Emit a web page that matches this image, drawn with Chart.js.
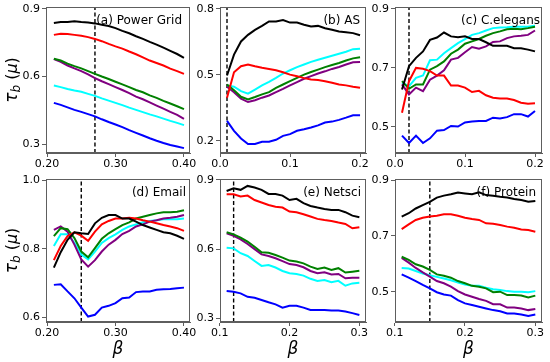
<!DOCTYPE html>
<html>
<head>
<meta charset="utf-8">
<script src="https://cdn.jsdelivr.net/npm/chart.js@4.4.1/dist/chart.umd.min.js"></script>
<style>
  html, body { margin: 0; padding: 0; background: #fff; }
  #wrap { position: relative; width: 550px; height: 362px; overflow: hidden; }
  canvas { position: absolute; }
</style>
</head>
<body>
<div id="wrap"></div>
<script>
// beta values on the x axis
const betaHigh = [0.21, 0.22, 0.23, 0.24, 0.25, 0.26, 0.27, 0.28, 0.29, 0.30, 0.31, 0.32, 0.33, 0.34, 0.35, 0.36, 0.37, 0.38, 0.39, 0.40];
const betaLow = [0.01, 0.02, 0.03, 0.04, 0.05, 0.06, 0.07, 0.08, 0.09, 0.10, 0.11, 0.12, 0.13, 0.14, 0.15, 0.16, 0.17, 0.18, 0.19, 0.20];
const betaMid = [0.11, 0.12, 0.13, 0.14, 0.15, 0.16, 0.17, 0.18, 0.19, 0.20, 0.21, 0.22, 0.23, 0.24, 0.25, 0.26, 0.27, 0.28, 0.29, 0.30];

// (a) Power Grid
const pgBlack = [0.838, 0.842, 0.842, 0.845, 0.842, 0.84, 0.836, 0.83, 0.824, 0.815, 0.803, 0.792, 0.779, 0.767, 0.754, 0.742, 0.728, 0.714, 0.7, 0.683];
const pgRed = [0.785, 0.79, 0.789, 0.785, 0.781, 0.775, 0.767, 0.757, 0.745, 0.734, 0.724, 0.711, 0.699, 0.685, 0.671, 0.66, 0.649, 0.635, 0.624, 0.612];
const pgGreen = [0.679, 0.671, 0.657, 0.646, 0.636, 0.624, 0.612, 0.6, 0.589, 0.577, 0.565, 0.553, 0.54, 0.53, 0.516, 0.505, 0.492, 0.48, 0.468, 0.455];
const pgPurple = [0.678, 0.665, 0.649, 0.636, 0.624, 0.61, 0.593, 0.579, 0.566, 0.553, 0.54, 0.526, 0.511, 0.499, 0.485, 0.471, 0.457, 0.443, 0.43, 0.412];
const pgCyan = [0.56, 0.553, 0.545, 0.538, 0.532, 0.523, 0.514, 0.503, 0.493, 0.483, 0.473, 0.462, 0.452, 0.442, 0.432, 0.423, 0.413, 0.403, 0.394, 0.384];
const pgBlue = [0.483, 0.474, 0.463, 0.452, 0.443, 0.433, 0.423, 0.41, 0.398, 0.387, 0.375, 0.362, 0.35, 0.338, 0.326, 0.315, 0.305, 0.296, 0.289, 0.282];

// (b) AS
const asBlack = [0.497, 0.592, 0.652, 0.682, 0.705, 0.723, 0.743, 0.743, 0.75, 0.738, 0.738, 0.728, 0.72, 0.723, 0.712, 0.705, 0.697, 0.694, 0.69, 0.68];
const asRed = [0.396, 0.512, 0.539, 0.547, 0.539, 0.532, 0.527, 0.521, 0.512, 0.501, 0.494, 0.485, 0.479, 0.476, 0.471, 0.464, 0.456, 0.452, 0.446, 0.441];
const asGreen = [0.456, 0.43, 0.4, 0.388, 0.399, 0.411, 0.421, 0.441, 0.456, 0.471, 0.486, 0.501, 0.513, 0.524, 0.535, 0.545, 0.554, 0.565, 0.575, 0.58];
const asPurple = [0.446, 0.421, 0.391, 0.376, 0.384, 0.396, 0.406, 0.421, 0.436, 0.452, 0.467, 0.482, 0.494, 0.506, 0.516, 0.527, 0.536, 0.547, 0.557, 0.559];
const asCyan = [0.452, 0.446, 0.426, 0.414, 0.433, 0.452, 0.468, 0.486, 0.506, 0.521, 0.535, 0.547, 0.559, 0.569, 0.578, 0.587, 0.596, 0.605, 0.617, 0.619];
const asBlue = [0.29, 0.245, 0.21, 0.185, 0.185, 0.195, 0.195, 0.204, 0.222, 0.23, 0.245, 0.252, 0.26, 0.27, 0.283, 0.287, 0.295, 0.305, 0.316, 0.316];

// (c) C.elegans
const ceBlack = [0.627, 0.706, 0.734, 0.756, 0.795, 0.803, 0.82, 0.807, 0.804, 0.807, 0.798, 0.798, 0.787, 0.775, 0.775, 0.775, 0.767, 0.767, 0.762, 0.756];
const ceRed = [0.548, 0.655, 0.7, 0.697, 0.689, 0.674, 0.674, 0.64, 0.64, 0.633, 0.618, 0.622, 0.607, 0.599, 0.596, 0.596, 0.591, 0.582, 0.578, 0.58];
const ceGreen = [0.655, 0.629, 0.644, 0.644, 0.694, 0.706, 0.722, 0.748, 0.762, 0.782, 0.79, 0.798, 0.809, 0.818, 0.824, 0.831, 0.833, 0.831, 0.835, 0.84];
const cePurple = [0.644, 0.61, 0.633, 0.621, 0.66, 0.674, 0.692, 0.728, 0.734, 0.753, 0.771, 0.765, 0.773, 0.788, 0.79, 0.801, 0.807, 0.809, 0.812, 0.827];
const ceCyan = [0.649, 0.638, 0.666, 0.674, 0.726, 0.728, 0.75, 0.767, 0.784, 0.798, 0.812, 0.818, 0.827, 0.835, 0.837, 0.838, 0.84, 0.84, 0.84, 0.843];
const ceBlue = [0.47, 0.445, 0.47, 0.445, 0.461, 0.487, 0.489, 0.503, 0.501, 0.515, 0.518, 0.52, 0.52, 0.531, 0.528, 0.533, 0.543, 0.543, 0.535, 0.554];

// (d) Email
const emBlack = [0.745, 0.79, 0.826, 0.848, 0.845, 0.843, 0.874, 0.89, 0.898, 0.898, 0.888, 0.888, 0.879, 0.869, 0.862, 0.855, 0.848, 0.845, 0.838, 0.829];
const emRed = [0.767, 0.808, 0.837, 0.848, 0.838, 0.823, 0.85, 0.871, 0.881, 0.888, 0.888, 0.89, 0.888, 0.883, 0.879, 0.874, 0.869, 0.865, 0.86, 0.852];
const emGreen = [0.837, 0.86, 0.857, 0.831, 0.792, 0.775, 0.802, 0.829, 0.845, 0.857, 0.869, 0.877, 0.888, 0.893, 0.898, 0.903, 0.906, 0.906, 0.908, 0.912];
const emPurple = [0.855, 0.865, 0.85, 0.812, 0.769, 0.748, 0.767, 0.792, 0.812, 0.826, 0.843, 0.852, 0.865, 0.871, 0.879, 0.883, 0.888, 0.89, 0.893, 0.898];
const emCyan = [0.808, 0.842, 0.842, 0.817, 0.783, 0.769, 0.792, 0.817, 0.831, 0.842, 0.855, 0.865, 0.871, 0.877, 0.881, 0.883, 0.886, 0.886, 0.886, 0.888];
const emBlue = [0.695, 0.697, 0.676, 0.656, 0.629, 0.603, 0.608, 0.629, 0.634, 0.642, 0.656, 0.658, 0.674, 0.676, 0.676, 0.681, 0.682, 0.683, 0.685, 0.687];

// (e) Netsci
const nsBlack = [0.852, 0.864, 0.857, 0.874, 0.867, 0.857, 0.839, 0.839, 0.832, 0.813, 0.818, 0.799, 0.787, 0.78, 0.774, 0.77, 0.77, 0.76, 0.745, 0.738];
const nsRed = [0.838, 0.838, 0.828, 0.832, 0.813, 0.802, 0.791, 0.784, 0.78, 0.763, 0.76, 0.751, 0.741, 0.731, 0.726, 0.722, 0.715, 0.709, 0.69, 0.695];
const nsGreen = [0.673, 0.664, 0.65, 0.632, 0.61, 0.586, 0.584, 0.574, 0.563, 0.55, 0.546, 0.538, 0.524, 0.514, 0.52, 0.509, 0.517, 0.498, 0.502, 0.506];
const nsPurple = [0.668, 0.657, 0.642, 0.622, 0.6, 0.577, 0.57, 0.56, 0.548, 0.535, 0.531, 0.521, 0.505, 0.495, 0.499, 0.49, 0.492, 0.473, 0.476, 0.476];
const nsCyan = [0.606, 0.603, 0.582, 0.57, 0.548, 0.527, 0.531, 0.52, 0.505, 0.495, 0.492, 0.485, 0.471, 0.462, 0.466, 0.456, 0.462, 0.441, 0.451, 0.454];
const nsBlue = [0.418, 0.415, 0.408, 0.393, 0.389, 0.379, 0.369, 0.36, 0.346, 0.354, 0.354, 0.346, 0.336, 0.336, 0.336, 0.333, 0.333, 0.329, 0.322, 0.314];

// (f) Protein
const prBlack = [0.769, 0.781, 0.798, 0.81, 0.822, 0.837, 0.844, 0.849, 0.855, 0.852, 0.849, 0.856, 0.846, 0.844, 0.84, 0.837, 0.832, 0.828, 0.822, 0.825];
const prRed = [0.724, 0.741, 0.757, 0.765, 0.769, 0.772, 0.777, 0.777, 0.772, 0.765, 0.76, 0.757, 0.745, 0.743, 0.739, 0.733, 0.729, 0.723, 0.721, 0.715];
const prGreen = [0.625, 0.614, 0.598, 0.59, 0.578, 0.562, 0.557, 0.55, 0.538, 0.53, 0.521, 0.518, 0.512, 0.498, 0.5, 0.488, 0.488, 0.486, 0.479, 0.486];
const prPurple = [0.621, 0.604, 0.585, 0.569, 0.554, 0.538, 0.53, 0.518, 0.502, 0.49, 0.482, 0.474, 0.467, 0.455, 0.455, 0.443, 0.443, 0.44, 0.434, 0.438];
const prCyan = [0.585, 0.583, 0.574, 0.565, 0.559, 0.553, 0.547, 0.541, 0.533, 0.526, 0.521, 0.521, 0.514, 0.509, 0.506, 0.502, 0.5, 0.5, 0.498, 0.502];
const prBlue = [0.562, 0.55, 0.538, 0.524, 0.512, 0.498, 0.49, 0.486, 0.47, 0.458, 0.452, 0.446, 0.44, 0.434, 0.43, 0.422, 0.422, 0.418, 0.413, 0.418];

// panel labels, threshold (dashed line) positions and tick labels
const panelNames = ['(a) Power Grid', '(b) AS', '(c) C.elegans', '(d) Email', '(e) Netsci', '(f) Protein'];
const thresholds = [0.27, 0.01, 0.02, 0.25, 0.12, 0.15];
const xTickVals = [[0.20, 0.30, 0.40], [0.0, 0.1, 0.2], [0.0, 0.1, 0.2], [0.20, 0.30, 0.40], [0.1, 0.2, 0.3], [0.1, 0.2, 0.3]];
const yTickVals = [[0.3, 0.6, 0.9], [0.2, 0.5, 0.8], [0.5, 0.7, 0.9], [0.6, 0.8, 1.0], [0.3, 0.6, 0.9], [0.5, 0.7, 0.9]];

const colores = ['#000000', '#ff0000', '#008000', '#800080', '#00ffff', '#0000ff'];

// layout of each axes box on the page: left, top, right, bottom (px)
const caixas = [
    [46, 7, 190, 153], [220, 7, 366, 153], [395, 7, 542, 153],
    [46, 179, 190, 322], [220, 179, 366, 322], [395, 179, 542, 322]
];
const limites = [
    { x: [0.1985, 0.4088], y: [0.2603, 0.9088] },
    { x: [0.0, 0.2085], y: [0.144, 0.809] },
    { x: [0.0, 0.21], y: [0.4112, 0.9067] },
    { x: [0.1985, 0.4088], y: [0.587, 1.003] },
    { x: [0.1005, 0.3095], y: [0.2836, 0.904] },
    { x: [0.1005, 0.3095], y: [0.3914, 0.9036] }
];
const labelRight = [8, 6, 2, 4, 5, 6];

const paineis = [
    { beta: betaHigh, s: [pgBlack, pgRed, pgGreen, pgPurple, pgCyan, pgBlue], xd: 2 },
    { beta: betaLow, s: [asBlack, asRed, asGreen, asPurple, asCyan, asBlue], xd: 1 },
    { beta: betaLow, s: [ceBlack, ceRed, ceGreen, cePurple, ceCyan, ceBlue], xd: 1 },
    { beta: betaHigh, s: [emBlack, emRed, emGreen, emPurple, emCyan, emBlue], xd: 2 },
    { beta: betaMid, s: [nsBlack, nsRed, nsGreen, nsPurple, nsCyan, nsBlue], xd: 1 },
    { beta: betaMid, s: [prBlack, prRed, prGreen, prPurple, prCyan, prBlue], xd: 1 }
];

const FONT = "'DejaVu Sans', sans-serif";
const EIXO = '#5e5e5e';

// frame + panel label + axis titles
const extras = {
    id: 'extras',
    afterDraw(chart, args, o) {
        const { ctx, chartArea: a } = chart;
        ctx.save();
        ctx.strokeStyle = EIXO;
        ctx.lineWidth = 1;
        ctx.strokeRect(Math.round(a.left) + 0.5, Math.round(a.top) + 0.5, Math.round(a.right - a.left) - 1, Math.round(a.bottom - a.top) - 1);

        ctx.fillStyle = '#000';
        ctx.font = '12px ' + FONT;
        ctx.textAlign = 'right';
        ctx.textBaseline = 'alphabetic';
        ctx.fillText(o.nome, a.right - o.dx, a.top + 17);

        if (o.tituloY) {
            ctx.translate(13, (a.top + a.bottom) / 2);
            ctx.rotate(-Math.PI / 2);
            ctx.textAlign = 'left';
            ctx.textBaseline = 'middle';
            const partes = [
                ['italic 17px ' + FONT, 'τ', 0],
                ['italic 12px ' + FONT, 'b', 4],
                ['16px ' + FONT, ' (', 0],
                ['italic 16px ' + FONT, 'μ', 0],
                ['16px ' + FONT, ')', 0]
            ];
            let w = 0;
            partes.forEach(p => { ctx.font = p[0]; w += ctx.measureText(p[1]).width; });
            let x = -w / 2;
            partes.forEach(p => {
                ctx.font = p[0];
                ctx.fillText(p[1], x, p[2]);
                x += ctx.measureText(p[1]).width;
            });
            ctx.setTransform(1, 0, 0, 1, 0, 0);
        }
        if (o.tituloX) {
            ctx.font = 'italic 17px ' + FONT;
            ctx.textAlign = 'center';
            ctx.textBaseline = 'middle';
            ctx.fillText('β', (a.left + a.right) / 2, a.bottom + 28);
        }
        ctx.restore();
    }
};

const wrap = document.getElementById('wrap');

paineis.forEach((p, i) => {
    const [L, T, R, B] = caixas[i];
    const col = i % 3, row = Math.floor(i / 3);
    const axW = col === 0 ? L : 32;
    const axH = row === 0 ? 22 : 40;
    const padTop = 10, padRight = 14;

    const cv = document.createElement('canvas');
    const w = axW + (R - L) + padRight, h = (B - T) + padTop + axH;
    cv.width = w; cv.height = h;
    cv.style.width = w + 'px'; cv.style.height = h + 'px';
    cv.style.left = (L - axW) + 'px';
    cv.style.top = (T - padTop) + 'px';
    wrap.appendChild(cv);

    const lim = limites[i];
    const datasets = p.s.map((serie, k) => ({
        data: p.beta.map((b, j) => ({ x: b, y: serie[j] })),
        borderColor: colores[k],
        borderWidth: 2,
        pointRadius: 0,
        tension: 0,
        fill: false
    }));
    // vertical dashed threshold line
    datasets.push({
        data: [{ x: thresholds[i], y: lim.y[0] }, { x: thresholds[i], y: lim.y[1] }],
        borderColor: '#000',
        borderWidth: 1.4,
        borderDash: [4, 2.5],
        pointRadius: 0
    });

    new Chart(cv.getContext('2d'), {
        type: 'line',
        data: { datasets },
        plugins: [extras],
        options: {
            responsive: false,
            animation: false,
            events: [],
            layout: { padding: { top: padTop, right: padRight, left: 0, bottom: 0 } },
            plugins: {
                legend: { display: false },
                tooltip: { enabled: false },
                extras: { nome: panelNames[i], dx: labelRight[i], tituloY: col === 0, tituloX: row === 1 }
            },
            scales: {
                x: {
                    type: 'linear',
                    min: lim.x[0], max: lim.x[1],
                    afterBuildTicks: s => { s.ticks = xTickVals[i].map(v => ({ value: v })); },
                    afterFit: s => { s.height = axH; },
                    ticks: {
                        autoSkip: false, maxRotation: 0, padding: 1,
                        color: '#000', font: { family: FONT, size: 11 },
                        callback: v => Number(v).toFixed(p.xd)
                    },
                    grid: { drawOnChartArea: false, tickLength: 4, color: EIXO },
                    border: { color: EIXO }
                },
                y: {
                    min: lim.y[0], max: lim.y[1],
                    afterBuildTicks: s => { s.ticks = yTickVals[i].map(v => ({ value: v })); },
                    afterFit: s => { s.width = axW; },
                    ticks: {
                        padding: 2, color: '#000', font: { family: FONT, size: 11 },
                        callback: v => Number(v).toFixed(1)
                    },
                    grid: { drawOnChartArea: false, tickLength: 4, color: EIXO },
                    border: { color: EIXO }
                }
            }
        }
    });
});
</script>
</body>
</html>
